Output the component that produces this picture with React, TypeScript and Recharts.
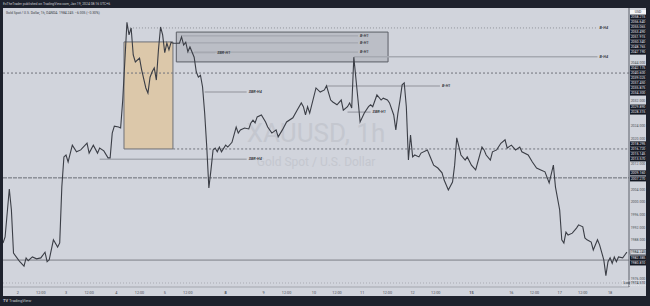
import { Line, LineChart, ReferenceArea, ReferenceLine, XAxis, YAxis } from 'recharts';

// hourly bar index since chart start, and the close at that bar
const HOURS = [
    0, 1, 3, 4, 5, 7, 8, 10, 11, 12, 14, 16, 18, 20, 21, 22, 24, 26, 27, 28, 29, 30, 31, 33, 35, 37, 40, 41, 43, 45, 46, 48, 50, 51,
    52, 53, 55, 56, 57, 59, 60, 61, 62, 63, 65, 66, 68, 69, 70, 71, 72, 73, 74, 75, 76, 77, 78, 79, 80, 81, 83, 84, 85, 86, 87, 88,
    89, 91, 92, 93, 94, 95, 96, 97, 98, 99, 100, 101, 102, 103, 104, 106, 107, 109, 111, 112, 113, 115, 117, 118, 119, 120, 121, 123,
    125, 126, 128, 130, 131, 133, 135, 138, 140, 142, 143, 144, 145, 146, 149, 151, 153, 154, 156, 157, 159, 161, 162, 164, 165, 166,
    167, 169, 170, 172, 174, 175, 176, 178, 180, 181, 183, 184, 186, 187, 188, 189, 190, 191, 192, 193, 194, 195, 196, 198, 199, 202,
    203, 205, 207, 209, 210, 212, 214, 215, 216, 218, 220, 221, 223, 225, 228, 229, 230, 232, 233, 235, 237, 239, 240, 242, 244, 246,
    247, 250, 252, 254, 256, 258, 260, 262, 263, 265, 266, 267, 268, 269, 271, 273, 274, 276, 277, 278, 280, 281, 283, 284, 286, 287,
    288, 289, 290, 291, 292, 293, 295, 296, 297,
];
const CLOSES = [
    1987.1, 1989.0, 2004.1, 1997.5, 1983.9, 1982.1, 1981.2, 1979.8, 1982.4, 1981.5, 1982.7, 1982.1, 1982.4, 1984.2, 1981.2, 1981.8,
    1988.1, 1985.8, 1987.1, 2004.7, 2014.2, 2014.8, 2012.6, 2017.9, 2015.8, 2016.4, 2018.5, 2015.4, 2017.9, 2015.4, 2017.0, 2016.1,
    2013.9, 2013.9, 2021.7, 2023.9, 2023.6, 2023.3, 2032.1, 2056.6, 2052.6, 2054.8, 2046.3, 2044.1, 2045.3, 2041.6, 2035.9, 2034.3,
    2039.3, 2041.0, 2042.2, 2038.4, 2047.9, 2055.1, 2052.6, 2047.0, 2050.0, 2047.9, 2050.3, 2050.0, 2050.0, 2050.0, 2052.0, 2049.4,
    2050.3, 2047.3, 2048.8, 2045.6, 2041.0, 2039.3, 2039.9, 2036.2, 2028.0, 2017.3, 2004.4, 2010.1, 2016.4, 2017.0, 2015.8, 2017.3,
    2015.8, 2017.9, 2017.3, 2018.8, 2023.6, 2021.7, 2022.7, 2023.3, 2023.0, 2024.9, 2025.8, 2024.9, 2026.8, 2027.4, 2025.2, 2023.6,
    2021.7, 2022.7, 2020.5, 2022.7, 2025.2, 2026.5, 2028.9, 2031.2, 2030.0, 2027.4, 2030.0, 2028.0, 2035.9, 2034.6, 2035.3, 2036.6,
    2032.1, 2031.5, 2030.6, 2032.1, 2028.9, 2030.0, 2031.2, 2029.6, 2045.6, 2032.1, 2025.2, 2028.0, 2030.0, 2030.6, 2030.0, 2033.7,
    2032.1, 2032.7, 2032.1, 2031.2, 2027.4, 2022.7, 2028.0, 2032.1, 2036.9, 2037.5, 2030.0, 2013.2, 2021.1, 2014.2, 2014.8, 2014.2,
    2015.4, 2016.4, 2014.8, 2011.6, 2010.7, 2009.2, 2006.9, 2003.8, 2006.3, 2011.6, 2020.2, 2014.8, 2013.2, 2014.2, 2011.6, 2010.1,
    2017.3, 2016.4, 2014.8, 2013.2, 2015.8, 2016.4, 2018.5, 2019.6, 2017.0, 2017.9, 2016.4, 2017.3, 2015.8, 2014.8, 2012.6, 2010.7,
    2010.1, 2009.5, 2006.0, 2011.6, 2004.7, 1997.5, 1988.1, 1987.1, 1990.5, 1989.6, 1990.2, 1991.8, 1992.8, 1992.2, 1988.7, 1988.1,
    1987.4, 1984.9, 1988.1, 1986.5, 1981.8, 1976.8, 1981.2, 1982.4, 1980.7, 1982.7, 1981.2, 1982.7, 1982.4, 1983.3, 1984.2,
];

const TIME_TICKS = [7, 18, 30, 41, 54, 65, 77, 88, 106, 124, 135, 148, 159, 171, 183, 195, 206, 223, 242, 253, 265, 276, 289];
const TIME_LABELS = ['2', '12:00', '3', '12:00', '4', '12:00', '5', '12:00', '8', '9', '12:00', '10', '12:00', '11', '12:00', '12', '12:00', '15', '16', '12:00', '17', '12:00', '18'];
const WEEK_STARTS = ['8', '15'];

const PRICE_TICKS = [1976, 1988, 1992, 1996, 2000, 2004, 2012, 2020, 2024, 2032, 2044];
const AXIS_TAGS = [
    2058.215, 2056.64, 2055.065, 2053.49, 2051.915, 2050.34, 2048.765, 2047.19, 2042.175, 2040.6, 2039.025, 2037.45, 2035.875,
    2034.3, 2029.89, 2028.315, 2018.295, 2016.72, 2015.145, 2013.57, 2009.16, 2007.27, 1982.385, 1980.81,
];
const LAST_PRICE = 1984.245;
const LOW_PRICE = 1974.51;

// drawn levels: price, start bar, end bar, text
const LEVEL_PRICES = [2054.8, 2045.7, 2052.3, 2050.1, 2047.2, 2047.0, 2034.6, 2013.5, 2036.5, 2028.3];
const LEVEL_FROM = [59, 167, 85, 83, 91, 88, 96, 46, 154, 164];
const LEVEL_TO = [283, 283, 169, 169, 169, 101, 116, 116, 208, 175];
const LEVEL_TEXT = ['B-H4', 'B-H4', 'B-H1', 'B-H1', 'B-H1', 'SBR-H1', 'SBR-H4', 'SBR-H4', 'B-H1', 'SBR-H1'];

const FULL_LEVELS = [2040.6, 2016.7, 2007.6, 1981.7, 1974.5];
const FULL_FROM = [0, 81, 0, 0, 0];

// zones: [bar from, bar to, price low, price high]
const SUPPLY_ZONE = [82.5, 183.3, 2044.1, 2053.5];
const ORDER_BLOCK = [57.6, 80.9, 2016.7, 2050.4];

const points = HOURS.map((h, i) => ({ hour: h, price: CLOSES[i] }));

const LEVEL_STYLE = [
    { stroke: '#8f929b', strokeDasharray: '1 2', strokeWidth: 1 },
    { stroke: '#a6a9b1', strokeWidth: 1.5 },
    { stroke: '#9fa2aa', strokeWidth: 1 },
    { stroke: '#9fa2aa', strokeWidth: 1 },
    { stroke: '#9fa2aa', strokeWidth: 1 },
    { stroke: '#a6a9b1', strokeWidth: 1.2 },
    { stroke: '#a6a9b1', strokeWidth: 1.5 },
    { stroke: '#a6a9b1', strokeWidth: 1.5 },
    { stroke: '#a6a9b1', strokeWidth: 1.5 },
    { stroke: '#a6a9b1', strokeWidth: 1.5 },
];
const FULL_STYLE = [
    { stroke: '#6f727b', strokeDasharray: '2 2', strokeWidth: 1 },
    { stroke: '#6f727b', strokeDasharray: '2 2', strokeWidth: 1 },
    { stroke: '#6a6d76', strokeDasharray: '4 1', strokeWidth: 1 },
    { stroke: '#a0a3ab', strokeWidth: 1.6 },
    { stroke: '#a9acb4', strokeDasharray: '1 2', strokeWidth: 1 },
];

function TimeTick({ x, y, payload }: any) {
    const label = TIME_LABELS[TIME_TICKS.indexOf(payload.value)] ?? '';
    return (
        <text x={x} y={y + 6.5} textAnchor="middle" fontSize={3.8} fill="#4b4e57" fontWeight={WEEK_STARTS.includes(label) ? 700 : 400}>
            {label}
        </text>
    );
}

function PriceTick({ x, y, payload }: any) {
    const v = payload.value as number;
    const left = x + 1;
    if (AXIS_TAGS.includes(v)) {
        return (
            <g>
                <rect x={left} y={y - 2.5} width={16} height={5} fill="#131722" />
                <text x={left + 8} y={y + 1.3} textAnchor="middle" fontSize={3.5} fill="#e6e7ea">{v.toFixed(3)}</text>
            </g>
        );
    }
    if (v === LAST_PRICE) {
        return (
            <g>
                <rect x={left} y={y - 2.5} width={16} height={5} fill="#d1d4dc" stroke="#4a4d56" strokeWidth={0.5} />
                <text x={left + 8} y={y + 1.3} textAnchor="middle" fontSize={3.5} fill="#2a2e39">{v.toFixed(3)}</text>
            </g>
        );
    }
    if (v === LOW_PRICE) {
        return (
            <g>
                <rect x={left - 8} y={y - 2.5} width={24} height={5} fill="none" stroke="#f4f5f7" strokeWidth={0.6} strokeDasharray="1 0.8" />
                <text x={left - 6.5} y={y + 1.3} fontSize={3.5} fill="#2a2e39">Low</text>
                <text x={left + 8} y={y + 1.3} textAnchor="middle" fontSize={3.5} fill="#2a2e39">{v.toFixed(3)}</text>
            </g>
        );
    }
    return (
        <text x={left + 8} y={y + 1.3} textAnchor="middle" fontSize={3.5} fill="#4b4e57">{v.toFixed(3)}</text>
    );
}

const levelLabel = (text: string) => ({
    value: text,
    position: 'right' as const,
    offset: 2,
    fontSize: 3.8,
    fontStyle: 'italic',
    fontWeight: 700,
    fill: '#3a3d45',
});

export default function App() {
    return (
        <div style={{ position: 'absolute', left: 0, top: 0, width: 650, height: 306, background: '#1e222d', overflow: 'hidden', fontFamily: 'Roboto, sans-serif' }}>
            <div style={{ position: 'absolute', left: 3, top: 1.5, fontSize: 3.4, color: '#c9cbd1', whiteSpace: 'nowrap' }}>
                ExTheTrader published on TradingView.com, Jan 19, 2024 08:16 UTC+6
            </div>
            <div style={{ position: 'absolute', left: 3, top: 8, width: 643, height: 288, background: '#d1d4dc' }}>
                <div style={{ position: 'absolute', left: 3, top: 2.5, fontSize: 3.4, color: '#3a3d45', whiteSpace: 'nowrap' }}>
                    Gold Spot / U.S. Dollar, 1h, OANDA&nbsp; 1984.245&nbsp; −6.005 (−0.30%)
                </div>
                <div style={{ position: 'absolute', left: 0, width: 626, top: 110, textAlign: 'center', fontSize: 26, color: '#c4c7cf', lineHeight: '30px' }}>
                    XAUUSD, 1h
                </div>
                <div style={{ position: 'absolute', left: 0, width: 626, top: 147, textAlign: 'center', fontSize: 12, color: '#c4c7cf', lineHeight: '14px' }}>
                    Gold Spot / U.S. Dollar
                </div>
                <div style={{ position: 'absolute', left: 627, top: 2, width: 16, height: 5, background: '#f4f5f7', fontSize: 3.5, color: '#2a2e39', textAlign: 'center', lineHeight: '5px' }}>
                    USD
                </div>
                <div style={{ position: 'absolute', left: 0, top: 0 }}>
                    <LineChart width={643} height={288} data={points} margin={{ top: 0, right: 0, bottom: 0, left: 0 }}>
                        <XAxis
                            dataKey="hour"
                            type="number"
                            domain={[0, 298]}
                            ticks={TIME_TICKS}
                            interval={0}
                            tick={<TimeTick />}
                            tickSize={0}
                            tickMargin={0}
                            height={9}
                            axisLine={{ stroke: '#a4a7af' }}
                            allowDataOverflow
                        />
                        <YAxis
                            orientation="right"
                            type="number"
                            domain={[1973.24, 2061.08]}
                            ticks={[...PRICE_TICKS, ...AXIS_TAGS, LAST_PRICE, LOW_PRICE]}
                            interval={0}
                            tick={<PriceTick />}
                            tickSize={0}
                            tickMargin={0}
                            width={17}
                            axisLine={{ stroke: '#5d606a' }}
                            allowDataOverflow
                        />
                        <ReferenceArea
                            x1={ORDER_BLOCK[0]}
                            x2={ORDER_BLOCK[1]}
                            y1={ORDER_BLOCK[2]}
                            y2={ORDER_BLOCK[3]}
                            fill="#dcc8aa"
                            fillOpacity={1}
                            stroke="#6e7077"
                            strokeWidth={1}
                        />
                        <ReferenceArea
                            x1={SUPPLY_ZONE[0]}
                            x2={SUPPLY_ZONE[1]}
                            y1={SUPPLY_ZONE[2]}
                            y2={SUPPLY_ZONE[3]}
                            fill="#a9acb5"
                            fillOpacity={0.55}
                            stroke="#5b5e66"
                            strokeWidth={1}
                        />
                        {FULL_LEVELS.map((p, i) => (
                            <ReferenceLine key={`f${i}`} segment={[{ x: FULL_FROM[i], y: p }, { x: 298, y: p }]} {...FULL_STYLE[i]} />
                        ))}
                        {LEVEL_PRICES.map((p, i) => (
                            <ReferenceLine
                                key={`l${i}`}
                                segment={[{ x: LEVEL_FROM[i], y: p }, { x: LEVEL_TO[i], y: p }]}
                                {...LEVEL_STYLE[i]}
                                label={levelLabel(LEVEL_TEXT[i])}
                            />
                        ))}
                        <Line dataKey="price" type="linear" stroke="#3b3e46" strokeWidth={1.1} dot={false} isAnimationActive={false} />
                    </LineChart>
                </div>
            </div>
            <div style={{ position: 'absolute', left: 3, top: 298, fontSize: 4, color: '#c9cbd1', whiteSpace: 'nowrap' }}>
                <b>TV</b>&nbsp;TradingView
            </div>
        </div>
    );
}
